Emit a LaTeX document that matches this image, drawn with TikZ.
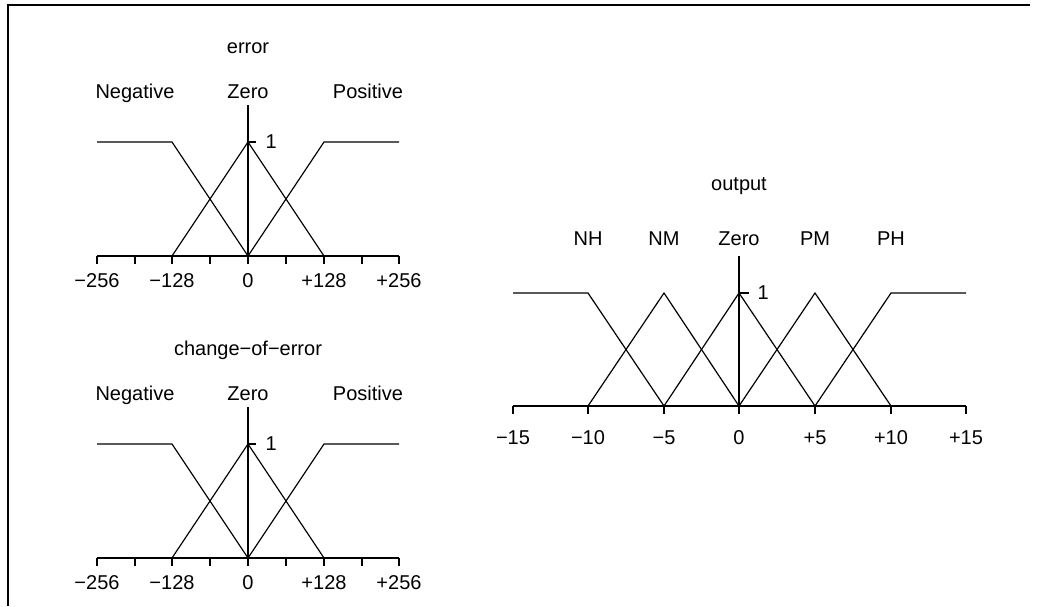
\documentclass[tikz,border=0pt]{standalone}
\usepackage{fontspec}
\setmainfont{Liberation Sans}
\begin{document}
\begin{tikzpicture}[x=1pt,y=-1pt,line width=1.2pt,
  lbl/.style={font=\fontsize{20}{23}\selectfont,inner sep=0pt,anchor=base},
  one/.style={font=\fontsize{20}{23}\selectfont,inner sep=0pt,anchor=west},
  frame/.style={line width=2pt},
  mf/.style={line width=1.2pt,line join=miter}]
\useasboundingbox (0,0) rectangle (1040,606);
\draw[frame] (8,606) -- (8,5) -- (1030,5);

% two small input plots
\foreach \dy/\ttl/\k in {0/error/a,302/change−of−error/b}{
\begin{scope}[shift={(0,\dy)}]
  \node[lbl] (\k title) at (248,53) {\ttl};
  \node[lbl] (\k neg) at (135,98) {Negative};
  \node[lbl] (\k zero) at (248,98) {Zero};
  \node[lbl] (\k pos) at (368,98) {Positive};
  \coordinate (\k L) at (97,256);
  \coordinate (\k R) at (399,256);
  \coordinate (\k O) at (248,256);
  \coordinate (\k T) at (248,105);
  \draw (\k L) -- (\k R);
  \foreach \x in {97,135,172,210,248,286,324,362,399}
    \draw (\x,256) -- (\x,264);
  \draw (\k O) -- (\k T);
  \draw (248,142) -- (256,142);
  \node[one] (\k one) at (265,142) {1};
  \draw[mf] (97,142) -- (172,142) -- (\k O);
  \draw[mf] (172,256) -- (248,142) -- (324,256);
  \draw[mf] (\k O) -- (324,142) -- (399,142);
  \node[lbl] (\k t1) at (97,287) {−256};
  \node[lbl] (\k t2) at (172,287) {−128};
  \node[lbl] (\k t3) at (248,287) {0};
  \node[lbl] (\k t4) at (324,287) {+128};
  \node[lbl] (\k t5) at (399,287) {+256};
\end{scope}
}

% output plot
\node[lbl] (otitle) at (739,190) {output};
\node[lbl] (oNH) at (588,245) {NH};
\node[lbl] (oNM) at (664,245) {NM};
\node[lbl] (oZ) at (739,245) {Zero};
\node[lbl] (oPM) at (815,245) {PM};
\node[lbl] (oPH) at (891,245) {PH};
\coordinate (oL) at (513,406);
\coordinate (oR) at (966,406);
\coordinate (oO) at (739,406);
\coordinate (oT) at (739,256);
\draw (oL) -- (oR);
\foreach \x in {513,588,664,739,815,891,966}
  \draw (\x,406) -- (\x,414);
\draw (oO) -- (oT);
\draw (739,293) -- (749,293);
\node[one] (oone) at (757,293) {1};
\draw[mf] (513,293) -- (588,293) -- (664,406);
\draw[mf] (588,406) -- (664,293) -- (739,406);
\draw[mf] (664,406) -- (739,293) -- (815,406);
\draw[mf] (739,406) -- (815,293) -- (891,406);
\draw[mf] (815,406) -- (891,293) -- (966,293);
\node[lbl] (o1) at (513,444) {−15};
\node[lbl] (o2) at (588,444) {−10};
\node[lbl] (o3) at (664,444) {−5};
\node[lbl] (o4) at (739,444) {0};
\node[lbl] (o5) at (815,444) {+5};
\node[lbl] (o6) at (891,444) {+10};
\node[lbl] (o7) at (966,444) {+15};
\end{tikzpicture}
\end{document}
